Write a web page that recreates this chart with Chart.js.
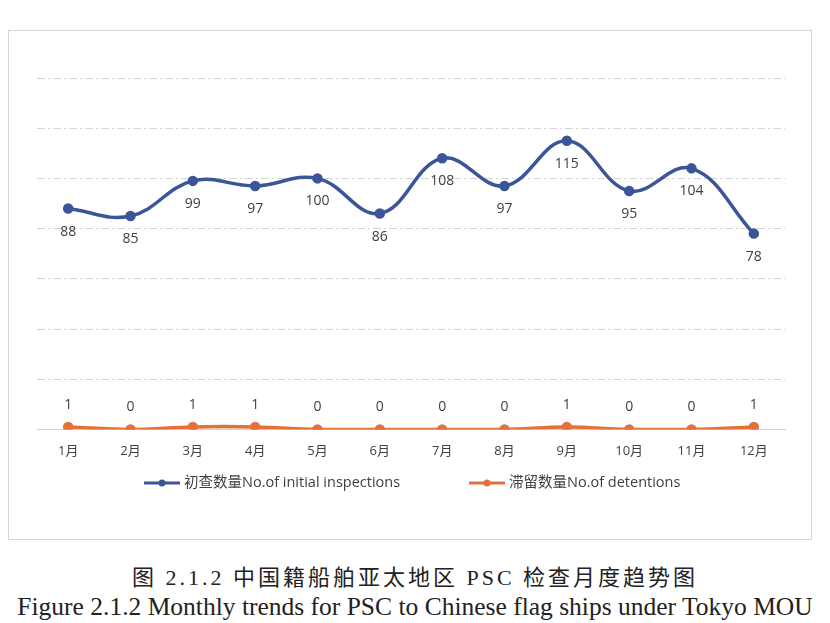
<!DOCTYPE html>
<html><head><meta charset="utf-8">
<script src="https://cdn.jsdelivr.net/npm/chart.js@4"></script>
<style>
body{margin:0;width:830px;height:623px;background:#fff;position:relative;overflow:hidden;font-family:"Open Sans",sans-serif}
#box{position:absolute;left:8px;top:30px;width:802px;height:508px;border:1px solid #d6d6d6}
.cap{position:absolute;left:0;width:830px;text-align:center;color:#222;white-space:nowrap}
#c1{top:559px;font-family:"Liberation Serif","Noto Sans CJK SC",serif;font-size:22px;letter-spacing:3px}
#c2{top:592px;font-family:"Liberation Serif",serif;font-size:25.5px}
</style></head><body>
<div id="box"><canvas id="c" width="802" height="508"></canvas></div>
<div class="cap" id="c1">图 2.1.2 中国籍船舶亚太地区 PSC 检查月度趋势图</div>
<div class="cap" id="c2">Figure 2.1.2 Monthly trends for PSC to Chinese flag ships under Tokyo MOU</div>
<script>
const months=["1月","2月","3月","4月","5月","6月","7月","8月","9月","10月","11月","12月"];
const inspections=[88,85,99,97,100,86,108,97,115,95,104,78];
const detentions=[1,0,1,1,0,0,0,0,1,0,0,1];
const seriesNames=["初查数量No.of initial inspections","滞留数量No.of detentions"];
const blue="#3b5599",orange="#e4713a";
const labelPlugin={id:"lbl",afterDatasetsDraw(ch){
 const ctx=ch.ctx;ctx.save();ctx.font="14px 'Open Sans'";ctx.fillStyle="#404040";ctx.textAlign="center";ctx.textBaseline="middle";
 ch.data.datasets.forEach((ds,i)=>{ch.getDatasetMeta(i).data.forEach((p,j)=>{
  ctx.fillText(ds.data[j],p.x,i===0?p.y+23:p.y-22);});});
 const y=452;const items=[[135,blue,seriesNames[0]],[460,orange,seriesNames[1]]];
 ctx.textAlign="left";ctx.font="14.5px 'Open Sans','Noto Sans CJK SC'";
 items.forEach(([x,c,t])=>{ctx.strokeStyle=c;ctx.lineWidth=3;ctx.beginPath();ctx.moveTo(x,y);ctx.lineTo(x+36,y);ctx.stroke();
  ctx.fillStyle=c;ctx.beginPath();ctx.arc(x+18,y,3.5,0,Math.PI*2);ctx.fill();ctx.fillStyle="#404040";ctx.fillText(t,x+40,y);});
 ctx.restore();}};
new Chart(document.getElementById("c"),{type:"line",
 data:{labels:months,datasets:[
  {label:seriesNames[0],data:inspections,borderColor:blue,backgroundColor:blue,borderWidth:3.5,tension:0.4,pointRadius:3.5},
  {label:seriesNames[1],data:detentions,borderColor:orange,backgroundColor:orange,borderWidth:3.5,tension:0.4,pointRadius:3.5}]},
 options:{responsive:false,animation:false,layout:{padding:{top:47,left:28,right:26,bottom:74}},
  plugins:{legend:{display:false},tooltip:{enabled:false}},
  scales:{x:{offset:true,grid:{display:false},border:{color:"#d0d0d0"},ticks:{color:"#404040",font:{size:13,family:"'Open Sans','Noto Sans CJK SC'"},padding:6}},
   y:{min:0,max:140,ticks:{display:false,stepSize:20},border:{display:false,dash:[8,3,2,3]},
    grid:{color:c=>c.tick.value===0?"rgba(0,0,0,0)":"#d4d4d4",drawTicks:false,lineWidth:1}}}},
 plugins:[labelPlugin]});
</script></body></html>
